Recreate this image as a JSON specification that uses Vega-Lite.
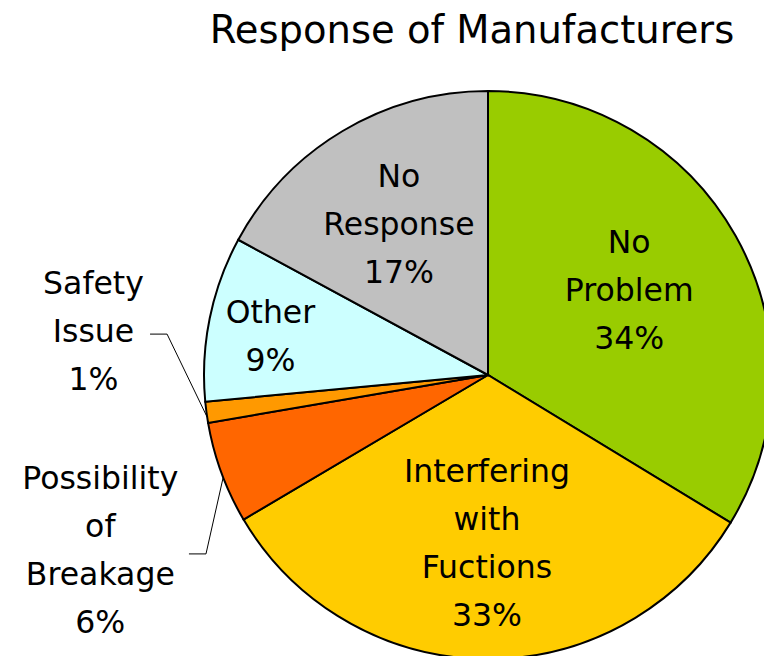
{
  "$schema": "https://vega.github.io/schema/vega-lite/v6.json",
  "autosize": {"type": "none"},
  "width": 976,
  "height": 630,
  "padding": {"top": 60, "left": 0, "right": -212, "bottom": -34},
  "background": "white",
  "config": {"view": {"stroke": null}},
  "title": {
    "text": "Response of Manufacturers",
    "font": "DejaVu Sans",
    "fontSize": 38.5,
    "fontWeight": "normal",
    "color": "black",
    "baseline": "alphabetic",
    "frame": "group",
    "offset": -21,
    "dx": -16
  },
  "datasets": {
    "slices": [
      {"cat": "No Problem", "label": "No\nProblem\n34%", "v": 33.7, "i": 1},
      {"cat": "Interfering with Fuctions", "label": "Interfering\nwith\nFuctions\n33%", "v": 32.8, "i": 2},
      {"cat": "Possibility of Breakage", "label": "Possibility\nof\nBreakage\n6%", "v": 5.8, "i": 3},
      {"cat": "Safety Issue", "label": "Safety\nIssue\n1%", "v": 1.2, "i": 4},
      {"cat": "Other", "label": "Other\n9%", "v": 9.4, "i": 5},
      {"cat": "No Response", "label": "No\nResponse\n17%", "v": 17.1, "i": 6}
    ],
    "leaders": [
      {"leader": "Safety Issue", "p": 1, "px": -1.190, "py": 0.144},
      {"leader": "Safety Issue", "p": 2, "px": -1.130, "py": 0.144},
      {"leader": "Safety Issue", "p": 3, "px": -0.989, "py": -0.148},
      {"leader": "Possibility of Breakage", "p": 1, "px": -1.053, "py": -0.630},
      {"leader": "Possibility of Breakage", "p": 2, "px": -0.993, "py": -0.630},
      {"leader": "Possibility of Breakage", "p": 3, "px": -0.933, "py": -0.363}
    ]
  },
  "layer": [
    {
      "data": {"name": "slices"},
      "mark": {"type": "arc", "radius": 284, "stroke": "black", "strokeWidth": 2},
      "encoding": {
        "theta": {"field": "v", "type": "quantitative", "stack": true},
        "order": {"field": "i", "type": "quantitative"},
        "color": {
          "field": "cat",
          "type": "nominal",
          "legend": null,
          "scale": {
            "domain": ["No Problem", "Interfering with Fuctions", "Possibility of Breakage", "Safety Issue", "Other", "No Response"],
            "range": ["#99CC00", "#FFCC00", "#FF6600", "#FF9900", "#CCFFFF", "#C0C0C0"]
          }
        }
      }
    },
    {
      "data": {"name": "slices"},
      "mark": {
        "type": "text",
        "font": "DejaVu Sans",
        "fontSize": 31.5,
        "lineHeight": 48,
        "lineBreak": "\n",
        "color": "black",
        "align": "center",
        "baseline": "middle",
        "radius": {"expr": "datum.cat === 'Safety Issue' ? 398 : datum.cat === 'Possibility of Breakage' ? 413 : datum.cat === 'Other' ? 222 : datum.cat === 'Interfering with Fuctions' ? 170 : datum.cat === 'No Response' ? 174 : 162"},
        "dy": {"expr": "datum.cat === 'Safety Issue' ? -142 : datum.cat === 'Possibility of Breakage' ? -37 : datum.cat === 'Other' ? -17 : datum.cat === 'No Problem' ? -52 : datum.cat === 'Interfering with Fuctions' ? -72 : -48"}
      },
      "encoding": {
        "theta": {"field": "v", "type": "quantitative", "stack": true},
        "order": {"field": "i", "type": "quantitative"},
        "text": {"field": "label", "type": "nominal"}
      }
    },
    {
      "data": {"name": "leaders"},
      "mark": {"type": "line", "color": "black", "strokeWidth": 1},
      "encoding": {
        "x": {"field": "px", "type": "quantitative", "axis": null, "scale": {"domain": [-1.7183, 1.7183], "nice": false, "zero": false}},
        "y": {"field": "py", "type": "quantitative", "axis": null, "scale": {"domain": [-1.1092, 1.1092], "nice": false, "zero": false}},
        "detail": {"field": "leader", "type": "nominal"},
        "order": {"field": "p", "type": "quantitative"}
      }
    }
  ]
}
